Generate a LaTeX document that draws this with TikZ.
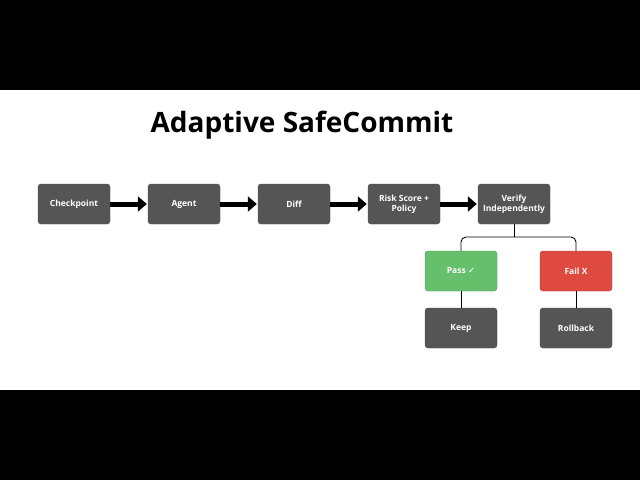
\documentclass[tikz,border=0pt]{standalone}
\usepackage{fontspec}
\setmainfont{Open Sans}
\newfontfamily\symfont{DejaVu Sans}
\usetikzlibrary{arrows.meta,positioning}
\definecolor{boxgray}{HTML}{555555}
\definecolor{passgreen}{HTML}{66BF6B}
\definecolor{failred}{HTML}{DE4A40}

\tikzset{
  stage/.style={draw=black!70,fill=boxgray,rounded corners=3pt,minimum width=72pt,
    minimum height=40pt,text=white,font=\fontsize{8.5}{10}\selectfont\bfseries,align=center,inner sep=1pt},
  flow/.style={-{Triangle[length=9pt,width=15pt]},line width=5pt,shorten >=1pt},
  branch/.style={draw=black,line width=0.9pt,rounded corners=5pt}
}

\begin{document}
\begin{tikzpicture}[x=1pt,y=-1pt]
    \fill[black] (0,0) rectangle (640,480);
    \fill[white] (0,90) rectangle (640,390);
    \useasboundingbox (0,0) rectangle (640,480);

    \node[font=\fontsize{28}{32}\selectfont\bfseries] (title) at (302,125) {Adaptive SafeCommit};

    \node[stage] (checkpoint) at (74,204) {Checkpoint};
    \node[stage] (agent) at (184,204) {Agent};
    \node[stage] (diff) at (294,204) {Diff};
    \node[stage] (risk) at (404,204) {Risk Score +\\Policy};
    \node[stage] (verify) at (514,204) {Verify\\Independently};

    \node[stage,fill=passgreen,draw=passgreen!80!black] (pass) at (461,271) {Pass {\symfont ✓}};
    \node[stage,fill=failred,draw=failred!80!black] (fail) at (576,271) {Fail X};
    \node[stage] (keep) at (461,328) {Keep};
    \node[stage] (rollback) at (576,328) {Rollback};

    \draw[flow] (checkpoint) -- (agent);
    \draw[flow] (agent) -- (diff);
    \draw[flow] (diff) -- (risk);
    \draw[flow] (risk) -- (verify);

    \coordinate (split) at (514,237);
    \draw[branch] (verify.south) -- (split);
    \draw[branch] (split) -| (pass.north);
    \draw[branch] (split) -| (fail.north);
    \draw[branch] (pass) -- (keep);
    \draw[branch] (fail) -- (rollback);
\end{tikzpicture}
\end{document}
